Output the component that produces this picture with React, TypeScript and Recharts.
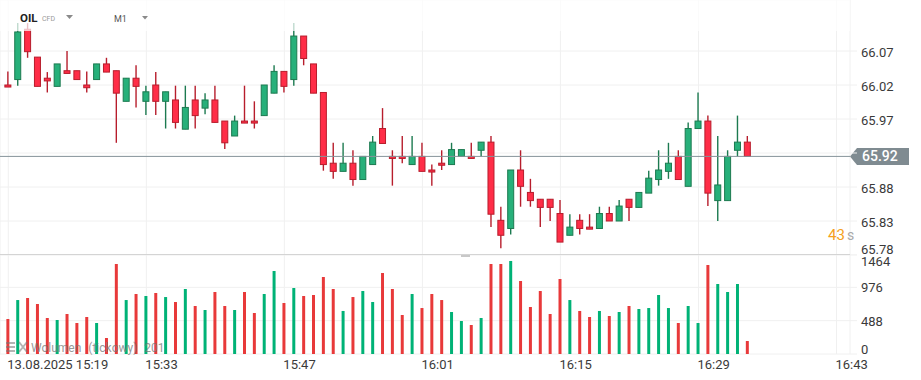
import React from "react";
import { ComposedChart, Bar, Cell, XAxis, YAxis, CartesianGrid, ReferenceLine } from "recharts";

// OIL CFD, M1, 13.08.2025 from 15:19 (one candle per minute)
const OPEN = [
  66.025, 66.033, 66.107, 66.066, 66.035, 66.023, 66.046, 66.046, 66.025, 66.033,
  66.056, 66.046, 66.001, 66.035, 66.001, 66.025, 66.001, 66.003, 65.96, 66.003,
  65.991, 66.003, 65.972, 65.95, 65.972, 65.972, 65.98, 66.013, 66.045, 66.033,
  66.097, 66.056, 66.014, 65.91, 65.898, 65.91, 65.886, 65.908, 65.961, 65.92,
  65.92, 65.908, 65.92, 65.9, 65.91, 65.908, 65.92, 65.92, 65.929, 65.941,
  65.826, 65.814, 65.9, 65.867, 65.857, 65.857, 65.836, 65.804, 65.826, 65.816,
  65.814, 65.836, 65.825, 65.857, 65.845, 65.866, 65.886, 65.898, 65.92, 65.876,
  65.961, 65.972, 65.855, 65.855, 65.929, 65.941,
];
const HIGH = [
  66.045, 66.116, 66.116, 66.066, 66.044, 66.056, 66.075, 66.046, 66.045, 66.056,
  66.065, 66.046, 66.035, 66.054, 66.024, 66.044, 66.015, 66.024, 66.024, 66.024,
  66.013, 66.024, 65.972, 65.98, 66.024, 66.001, 66.025, 66.054, 66.045, 66.116,
  66.097, 66.056, 66.014, 65.94, 65.94, 65.929, 65.92, 65.95, 65.991, 65.929,
  65.95, 65.95, 65.94, 65.908, 65.929, 65.94, 65.93, 65.94, 65.941, 65.95,
  65.846, 65.9, 65.929, 65.887, 65.857, 65.857, 65.856, 65.835, 65.835, 65.835,
  65.846, 65.846, 65.856, 65.857, 65.867, 65.899, 65.929, 65.94, 65.929, 65.97,
  66.014, 65.98, 65.95, 65.929, 65.98, 65.95,
];
const LOW = [
  66.022, 66.024, 66.065, 66.023, 66.014, 66.023, 66.042, 66.033, 66.014, 66.033,
  66.044, 65.94, 66.001, 65.992, 65.981, 65.981, 65.961, 65.961, 65.96, 65.961,
  65.982, 65.97, 65.931, 65.95, 65.969, 65.961, 65.98, 66.013, 66.014, 66.024,
  66.054, 66.013, 65.899, 65.887, 65.898, 65.877, 65.886, 65.908, 65.939, 65.877,
  65.91, 65.908, 65.898, 65.877, 65.9, 65.908, 65.92, 65.917, 65.92, 65.816,
  65.785, 65.805, 65.846, 65.846, 65.816, 65.825, 65.794, 65.804, 65.805, 65.813,
  65.814, 65.825, 65.825, 65.825, 65.845, 65.866, 65.877, 65.887, 65.886, 65.876,
  65.961, 65.847, 65.825, 65.855, 65.92, 65.92,
];
const CLOSE = [
  66.022, 66.103, 66.074, 66.023, 66.031, 66.056, 66.042, 66.033, 66.021, 66.056,
  66.044, 66.013, 66.035, 66.023, 66.015, 66.001, 66.015, 65.97, 65.992, 65.98,
  66.003, 65.97, 65.94, 65.972, 65.969, 65.969, 66.025, 66.045, 66.023, 66.097,
  66.064, 66.013, 65.908, 65.898, 65.91, 65.886, 65.92, 65.941, 65.939, 65.917,
  65.917, 65.92, 65.898, 65.897, 65.907, 65.93, 65.93, 65.917, 65.941, 65.835,
  65.804, 65.9, 65.876, 65.855, 65.845, 65.845, 65.794, 65.816, 65.814, 65.813,
  65.836, 65.825, 65.847, 65.845, 65.867, 65.888, 65.9, 65.91, 65.886, 65.961,
  65.972, 65.866, 65.878, 65.92, 65.941, 65.92,
];
const VOLUME = [
  512, 790, 820, 732, 527, 498, 586, 454, 542, 454,
  234, 1318, 790, 878, 849, 893, 834, 761, 952, 703,
  644, 908, 703, 644, 908, 600, 878, 1215, 747, 966,
  849, 864, 1127, 952, 630, 834, 922, 761, 1186, 952,
  571, 878, 673, 878, 790, 615, 483, 425, 527, 1318,
  1318, 1362, 1069, 688, 922, 586, 1098, 790, 630, 542,
  630, 556, 615, 703, 659, 673, 864, 673, 454, 703,
  454, 1303, 1025, 908, 1025, 190,
];

const TIME_TICKS = [0, 14, 28, 42, 56, 70, 84];
const TIME_LABELS = ["13.08.2025 15:19", "15:33", "15:47", "16:01", "16:15", "16:29", "16:43"];
const PRICE_TICKS = [65.775, 65.825, 65.875, 65.925, 65.975, 66.025, 66.075];
const PRICE_LABELS = ["65.78", "65.83", "65.88", "", "65.97", "66.02", "66.07"];
const VOL_TICKS = [0, 488, 976, 1464];
const LAST_PRICE = 65.92;

const data = OPEN.map((o, i) => ({
  t: i,
  o,
  h: HIGH[i],
  l: LOW[i],
  c: CLOSE[i],
  range: [LOW[i], HIGH[i]],
  v: VOLUME[i],
}));

const X_DOMAIN: [number, number] = [-0.842, 85.37];
const FONT = "Roboto, sans-serif";
const UP = { fill: "#27b07a", line: "#1c7a50", vol: "#00b276" };
const DOWN = { fill: "#ff2d47", line: "#b71d2c", vol: "#e8393a" };

function Candle(props: any) {
  const { x, y, width, height, payload } = props;
  if (x == null || payload == null) return null;
  const top = Math.min(y, y + height);
  const hh = Math.abs(height);
  const { o, h, l, c } = payload;
  const k = h - l > 0 ? hh / (h - l) : 0;
  const py = (p: number) => top + (h - p) * k;
  const up = c >= o;
  const col = up ? UP : DOWN;
  const cx = x + width / 2;
  let bTop = py(Math.max(o, c));
  let bBot = py(Math.min(o, c));
  if (bBot - bTop < 1.5) {
    const m = (bTop + bBot) / 2;
    bTop = m - 0.9;
    bBot = m + 0.9;
  }
  return (
    <g>
      <line x1={cx} x2={cx} y1={top} y2={top + hh} stroke={col.line} strokeWidth={1.4} />
      <rect x={x + 0.5} y={bTop} width={width - 1} height={bBot - bTop} fill={col.fill} stroke={col.line} strokeWidth={1} />
    </g>
  );
}

function PriceTick(props: any) {
  const { x, y, payload } = props;
  const label = PRICE_LABELS[payload.index];
  if (!label) return null;
  const dy = payload.index === 0 ? -1.5 : 5.5;
  return (
    <text x={x + 4} y={y + dy} fill="#3a3a3a" fontSize={13} fontFamily={FONT}>
      {label}
    </text>
  );
}

function VolTick(props: any) {
  const { x, y, payload } = props;
  const dyMap: Record<number, number> = { 0: 0, 488: 5, 976: 5, 1464: 12 };
  return (
    <text x={x + 4} y={y + (dyMap[payload.value] ?? 5)} fill="#3a3a3a" fontSize={13} fontFamily={FONT}>
      {payload.value}
    </text>
  );
}

function TimeTick(props: any) {
  const { x, y, payload } = props;
  return (
    <text x={x - 1} y={y + 14.5} fill="#3a3a3a" fontSize={13} fontFamily={FONT}>
      {TIME_LABELS[payload.index]}
    </text>
  );
}

function PriceTag(props: any) {
  const vb = props.viewBox;
  if (!vb) return null;
  const tx = vb.x + vb.width;
  const ty = vb.y;
  return (
    <g>
      <polygon
        points={`${tx},${ty} ${tx + 7},${ty - 8.5} ${tx + 59},${ty - 8.5} ${tx + 59},${ty + 8.5} ${tx + 7},${ty + 8.5}`}
        fill="#7f8b91"
      />
      <text x={tx + 12} y={ty + 5} fill="#ffffff" fontSize={14} fontWeight={500} fontFamily={FONT}>
        {LAST_PRICE.toFixed(2)}
      </text>
    </g>
  );
}

export default function App() {
  return (
    <div style={{ position: "absolute", left: 0, top: 0, width: 921, height: 380, background: "#fff", fontFamily: FONT, overflow: "hidden" }}>
      <div style={{ position: "absolute", left: 0, top: 0 }}>
        <ComposedChart width={921} height={256} data={data} margin={{ top: 0, right: 0, bottom: 1, left: 0 }}>
          <CartesianGrid stroke="#f0f0f0" />
          <XAxis type="number" dataKey="t" domain={X_DOMAIN} ticks={TIME_TICKS} hide allowDataOverflow />
          <YAxis
            orientation="right"
            width={71}
            domain={[65.775, 66.15]}
            ticks={PRICE_TICKS}
            allowDataOverflow
            axisLine={false}
            tickLine={{ stroke: "#f0f0f0" }}
            tickSize={7}
            tickMargin={0}
            tick={<PriceTick />}
            interval={0}
          />
          <ReferenceLine y={LAST_PRICE} stroke="#86939a" strokeWidth={1} label={<PriceTag />} />
          <Bar dataKey="range" barSize={7} shape={<Candle />} isAnimationActive={false} />
        </ComposedChart>
      </div>

      <div style={{ position: "absolute", left: 0, top: 254 }}>
        <ComposedChart width={921} height={126} data={data} margin={{ top: 0, right: 0, bottom: 0, left: 0 }}>
          <CartesianGrid stroke="#f0f0f0" />
          <XAxis
            type="number"
            dataKey="t"
            domain={X_DOMAIN}
            ticks={TIME_TICKS}
            allowDataOverflow
            height={26}
            axisLine={false}
            tickLine={false}
            tickSize={0}
            tickMargin={0}
            tick={<TimeTick />}
            interval={0}
          />
          <YAxis
            orientation="right"
            width={71}
            domain={[0, 1464]}
            ticks={VOL_TICKS}
            allowDataOverflow
            axisLine={false}
            tickLine={{ stroke: "#f0f0f0" }}
            tickSize={7}
            tickMargin={0}
            tick={<VolTick />}
            interval={0}
          />
          <Bar dataKey="v" barSize={3} isAnimationActive={false}>
            {data.map((d, i) => (
              <Cell key={i} fill={d.c >= d.o ? UP.vol : DOWN.vol} />
            ))}
          </Bar>
        </ComposedChart>
      </div>

      {/* pane separator + handle */}
      <div style={{ position: "absolute", left: 0, top: 254, width: 850, height: 1, background: "#d4d4d4" }} />
      <div style={{ position: "absolute", left: 461, top: 255, width: 9, height: 2, background: "#c8c8c8" }} />

      {/* header overlay */}
      <div style={{ position: "absolute", left: 0, top: 0, width: 850, height: 31, background: "rgba(255,255,255,0.72)" }} />
      <div style={{ position: "absolute", left: 20, top: 11, fontSize: 11.5, fontWeight: 700, color: "#222" }}>OIL</div>
      <div style={{ position: "absolute", left: 42, top: 15, fontSize: 7, color: "#9a9a9a" }}>CFD</div>
      <svg style={{ position: "absolute", left: 66, top: 15 }} width={8} height={5}>
        <polygon points="0,0 7,0 3.5,4" fill="#8a8a8a" />
      </svg>
      <div style={{ position: "absolute", left: 114, top: 14, fontSize: 9, color: "#555" }}>M1</div>
      <svg style={{ position: "absolute", left: 142, top: 16 }} width={7} height={5}>
        <polygon points="0,0 6,0 3,3.5" fill="#8a8a8a" />
      </svg>

      {/* countdown */}
      <div style={{ position: "absolute", left: 828, top: 226, fontSize: 15, lineHeight: "18px", color: "#f5a020", whiteSpace: "nowrap" }}>
        43<span style={{ color: "#a8a8a8", fontSize: 14, marginLeft: 2 }}>s</span>
      </div>

      {/* volume legend */}
      <svg style={{ position: "absolute", left: 6, top: 341, opacity: 0.55 }} width={24} height={12}>
        <rect x={0} y={1} width={9} height={2} fill="#777" />
        <rect x={0} y={5} width={9} height={2} fill="#777" />
        <rect x={0} y={9} width={9} height={2} fill="#777" />
        <path d="M13 1 L21 11 M21 1 L13 11" stroke="#777" strokeWidth={2} />
      </svg>
      <div style={{ position: "absolute", left: 31, top: 341, fontSize: 12, color: "#777", opacity: 0.75, wordSpacing: 4, whiteSpace: "nowrap" }}>
        Wolumen (tickowy) 201
      </div>
    </div>
  );
}
